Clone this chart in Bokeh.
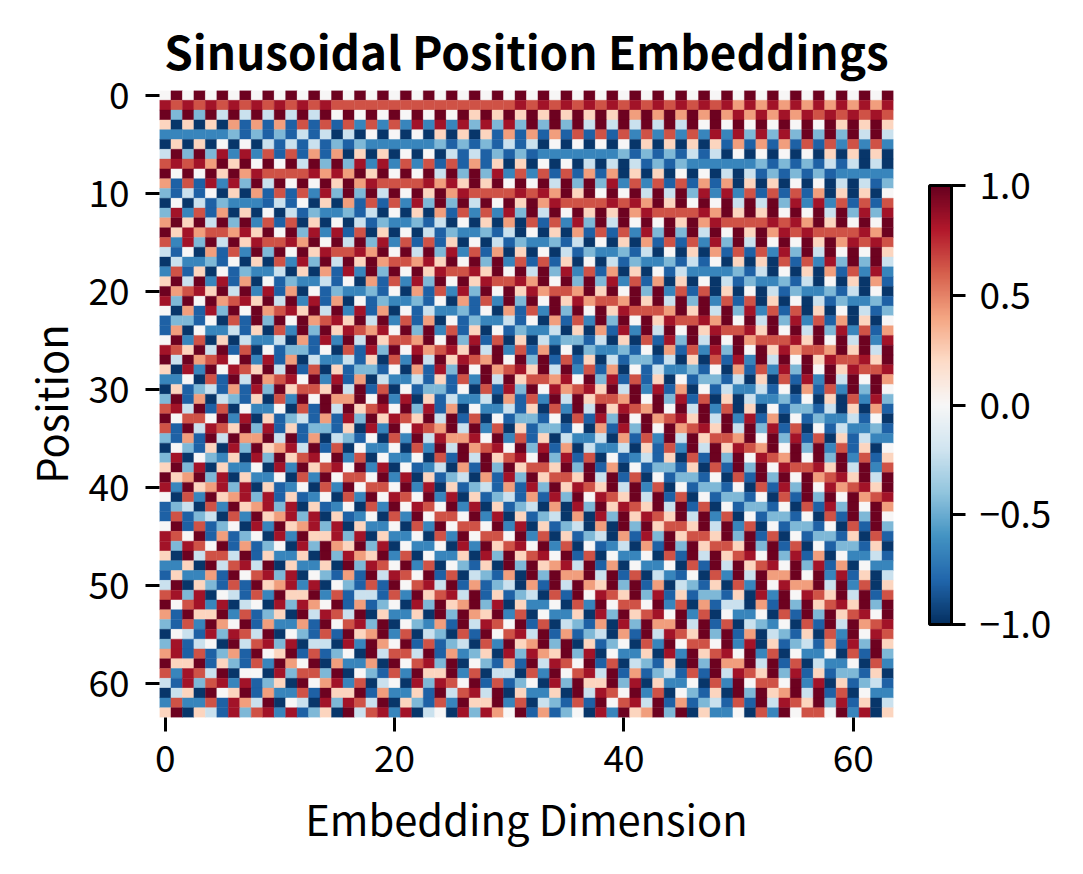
from bokeh.embed import file_html
from bokeh.models import ColorBar, ColumnDataSource, FixedTicker, LinearColorMapper, Range1d
from bokeh.plotting import figure
from bokeh.resources import INLINE
from bokeh.transform import transform

TITLE = "Sinusoidal Position Embeddings"
X_LABEL = "Embedding Dimension"
Y_LABEL = "Position"
X_TICKS = [0, 20, 40, 60]
Y_TICKS = [0, 10, 20, 30, 40, 50, 60]
CB_TICKS = [-1.0, -0.5, 0.0, 0.5, 1.0]
CB_LABELS = ["\u22121.0", "\u22120.5", "0.0", "0.5", "1.0"]
FONT = "Noto Sans CJK SC"

# Value for each colour step (digit / letter in ROWS).
LEVELS = {"0": -0.97, "1": -0.82, "2": -0.66, "3": -0.45, "4": -0.22, "5": 0.0,
          "6": 0.22, "7": 0.42, "8": 0.64, "9": 0.84, "a": 0.98}

# One row per position, read cell by cell: columns 0-20, 21-42, 43-63.
ROWS = [
    "5a5a5a5a5a5a5a5a5a5a5 a5a5a5a5a5a5a5a5a5a5a5 a5a5a5a5a5a5a5a5a5a5a",
    "989898989898989888888 8888888888989898989898 989898979797979797979",
    "a3a3a4a4a4a4a4a5a5a5a 5a5a5a6a6a6a6a6a6a6a7a 7a7a7a797979798989898",
    "606060717171818182828 2929293939 3a3a3a4a4a4a 4a4a5a5a5a5a5a5a6a6a6",
    "222222313131414040505 0506060617171718181828 282829293939 3a3a3a4a4",
    "060605050414141313222 2223131314140505050506 060606171717181828282",
    "4a3a39292818171706060 5050414131312222222313 131414050505050606060",
    "89897a6a5a5a4a3a39292 8281817160605050404041 313222222313131414040",
    "a5a5a6a7988889797a6a5 a5a4a3a392828181717060 605050404131313122222",
    "71819293a4a5a5a6a7988 889796a6a5a5a4a3a39282 818171706060505040413",
    "3141506071818293a3a4a 5a6a7988889897a6a5a5a4 a4a392928181817060605",
    "050413222141506071818 293a3a4a5a6a7988889897 a6a5a5a4a4a3929281818",
    "392817060504132231405 06071828293a4a5a6a6a79 888897a6a6a5a5a4a3939",
    "7a6a4a3a2818060504132 23140506070818293a4a5a 5a6a7988889897a6a5a5a",
    "a69788796a5a392918060 5041322314050607181829 3a3a4a5a6a7989888897a",
    "8293a4a698897a5a4a392 8181605041322314050607 1818293a4a5a5a6a79898",
    "41507182a3a5a698897a5 a4a3928170605041322314 0506071818293a4a5a5a6",
    "04223150608293a4a6a78 8796a5a3a2818160504132 23141506060818293a3a4",
    "281605132240607192a3a 5a698896a5a4a392817060 514222231405060718292",
    "6a4a29170513224150718 293a5a698897a5a3a39281 706050413223140506071",
    "a7896a4a2917051322315 0718293a5a697887a6a5a3 a28180605041322314050",
    "93a5a7896a4a291705132 231507182a3a5a697887a6 a4a3a2818060504132231",
    "507193a5a7896a4a29170 5142231507182a3a5a6988 87a6a4a39281806050413",
    "13315081a3a5a7896a4a2 81705132241507182a3a5a 698897a5a4a3928170605",
    "170522416082a3a698795 a3a281605132240607192a 4a5a698896a5a4a392817",
    "5a28060422407192a4a68 87a5a39180604233140608 193a4a5a788896a5a4a29",
    "986a4a18051331508193a 597896a4a2817050322315 0718293a5a697887a6a4a",
    "a4a7895a2917042241608 2a4a6987a5a3a181604133 140608192a4a5a698896a",
    "6092a5986a4a180613315 07193a5a7896a4a2817051 4223150718293a5a69889",
    "225081a4a7895a2917042 2416182a4a688795a39181 605133140608192a4a5a7",
    "0613417193a6886a4a180 51331508193a597896a4a2 91705142241507182a3a5",
    "3a1704316082a5a77a5a2 9061422407182a4a6887a5 a39180604223150608293",
    "894a1805225081a4a6895 a39170522416082a4a6987 a5a4a2806051331406071",
    "a5885a290613417193a69 86a4a18051331508193a5a 7896a4a29170513224150",
    "81a4986a391613316092a 5987a4a28061331507193a 5a7896a4a391805142231",
    "3171a4a77a4a170431508 2a497795a2816042240718 2a4a6887a5a3918061422",
    "05316093a6794a1805225 082a4a7895a39170422406 182a4a6987a5a3a281605",
    "3905326093a6895a28052 25081a4a6895a391805124 16081a3a5987a5a3a2816",
    "6a3906225092a6895a290 5124071a3a6886a3a17051 3316081a3a598896a4a28",
    "a67a3906225082a5885a2 90613407193a6886a4a180 513315081a3a5a7896a4a",
    "92a6793906125082a5885 a290613417193a6986a4a2 8051331508193a597896a",
    "5082a6793916125082a59 85a290613417193a5986a4 a180513315081a3a5a789",
    "134082a6793906125082a 5985a290613407093a6986 a4a18051331508193a5a7",
    "18134082a679390612508 2a5885a290613407093a69 86a4a280513315081a3a5",
    "5a18135092a6793906225 082a5885a2906134070a3a 6886a4a280513315081a3",
    "985a17135092a66939062 25082a5885a28061340719 3a6886a3a180513316081",
    "93985a17135093a76a390 5225092a6895a280512407 1a3a6886a3a1805133160",
    "60a4884a162260a3976a2 805226093a6895a1805225 081a4a6895a3917052241",
    "2260a4894a062260a3985 a28053160a3a6794a17052 25081a4a6895a39170522",
    "162271a58939053171a49 85a18043170a3a77a4a180 4215082a4a77a5a291604",
    "4a063181a67929053181a 5894a17134071a4a76a3a1 704316082a5977a4a2806",
    "8939054182a66a2814418 2a6894a16134081a5986a3 91613316092a5986a4a18",
    "a58929045093975a17135 093a67a3906225082a5885 a2807144071a3a6896a3a",
    "71a66a281360a4984a062 260a3a76a2805226093a68 95a2805225081a3a6895a",
    "3182a75a172271a5893a0 53271a4985a1804317093a 77a4a1804325081a4a789",
    "054193984a053181a67a2 8043081a5894a17134071a 4986a3a1704316082a598",
    "391450a48939044092a75 a18134082a67a3a0613508 2a5885a290613417193a6",
    "79181371a56a181350a48 84a17236093976a3905226 092a6895a2805225081a3",
    "a66a163182a75a072270a 5893a053171a4985a18043 160a3a77a4a1804225082",
    "82984a055093883a05318 2a66a28044082a5894a171 34181a4986a3916133160",
    "419389291360a57928045 093985a18135093a66a390 6225082a5885a29061341",
    "0460a56a172281a66a172 261a4894a062260a4985a2 8053160a3a67a4a180522",
    "282281974a054093984a0 63182a66a28043181a5894 a17134181a4986a391604",
    "6a06419389291360a4892 9045093975a17135092a67 a3a06225082a5885a2906",
]

RDBU_STOPS = ["#053061", "#2166ac", "#4393c3", "#92c5de", "#d1e5f0", "#f7f7f7",
              "#fddbc7", "#f4a582", "#d6604d", "#b2182b", "#67001f"]


def build_palette(stops, n):
    rgb = [tuple(int(s[i:i + 2], 16) for i in (1, 3, 5)) for s in stops]
    out = []
    for k in range(n):
        t = k / (n - 1) * (len(rgb) - 1)
        i = min(int(t), len(rgb) - 2)
        f = t - i
        c = [round(rgb[i][j] + (rgb[i + 1][j] - rgb[i][j]) * f) for j in range(3)]
        out.append("#%02x%02x%02x" % tuple(c))
    return out


xs, ys, vals = [], [], []
for r, row in enumerate(ROWS):
    cells = row.replace(" ", "")
    if len(cells) != 64:
        raise ValueError(f"row {r} has {len(cells)} cells")
    for c, ch in enumerate(cells):
        xs.append(c)
        ys.append(r)
        vals.append(LEVELS[ch])

source = ColumnDataSource(dict(x=xs, y=ys, v=vals))
mapper = LinearColorMapper(palette=build_palette(RDBU_STOPS, 256), low=-1, high=1)

p = figure(width=1067, height=858, output_backend="svg", toolbar_location=None,
           x_range=Range1d(-0.5, 63.5), y_range=Range1d(63.5, -0.5),
           min_border_left=159, min_border_right=174, min_border_top=90, min_border_bottom=141,
           background_fill_color="white", border_fill_color="white", outline_line_color=None)
p.rect("x", "y", width=1, height=1, source=source, fill_color=transform("v", mapper),
       line_color=transform("v", mapper), line_width=0.4)

p.title.text = TITLE
p.title.align = "center"
p.title.text_font = FONT
p.title.text_font_size = "45.8px"
p.title.text_font_style = "bold"
p.title.text_color = "black"
p.title.standoff = 15

p.grid.visible = False
for ax, ticks, label in ((p.xaxis[0], X_TICKS, X_LABEL), (p.yaxis[0], Y_TICKS, Y_LABEL)):
    ax.ticker = FixedTicker(ticks=ticks)
    ax.axis_label = label
    ax.axis_label_text_font = FONT
    ax.axis_label_text_font_size = "41.7px"
    ax.axis_label_text_font_style = "normal"
    ax.axis_label_text_color = "black"
    ax.major_label_text_font = FONT
    ax.major_label_text_font_size = "37px"
    ax.major_label_text_color = "black"
    ax.axis_line_color = None
    ax.major_tick_line_color = "black"
    ax.major_tick_line_width = 3
    ax.major_tick_in = 0
    ax.major_tick_out = 14
    ax.minor_tick_line_color = None
p.xaxis[0].major_label_standoff = 13
p.xaxis[0].axis_label_standoff = 13
p.yaxis[0].major_label_standoff = 16
p.yaxis[0].axis_label_standoff = 5
p.yaxis[0].major_label_orientation = 0

cb = ColorBar(color_mapper=mapper, ticker=FixedTicker(ticks=CB_TICKS),
              major_label_overrides=dict(zip(CB_TICKS, CB_LABELS)),
              width=22, height=439, padding=0, margin=0, location=(770, 93),
              major_label_text_font=FONT, major_label_text_font_size="37px",
              major_label_text_color="black", label_standoff=14,
              bar_line_color="black", bar_line_width=3,
              major_tick_line_color="black", major_tick_line_width=3,
              major_tick_in=0, major_tick_out=14, minor_tick_line_color=None,
              background_fill_color=None, border_line_color=None)
p.add_layout(cb, "center")

open("out.html", "w").write(file_html(p, INLINE))
